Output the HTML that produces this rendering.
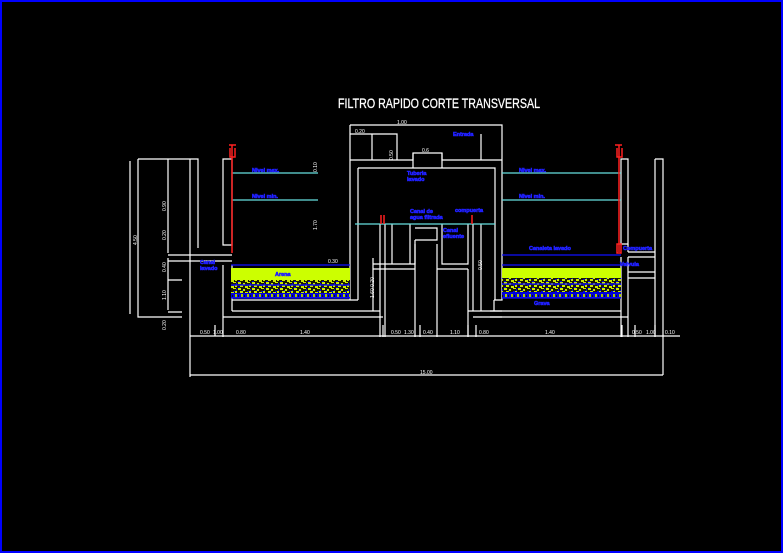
<!DOCTYPE html>
<html><head><meta charset="utf-8"><style>
html,body{margin:0;padding:0;background:#000;}
svg{display:block;}
text{font-family:"Liberation Sans",sans-serif;}
</style></head><body>
<svg width="783" height="553" viewBox="0 0 783 553" xmlns="http://www.w3.org/2000/svg">
<defs>
<pattern id="sp" width="14" height="6" patternUnits="userSpaceOnUse">
<rect width="14" height="6" fill="#1a1a00"/>
<rect x="0" y="0" width="3" height="2" fill="#ccee00"/><rect x="5" y="1" width="2" height="2" fill="#ccee00"/>
<rect x="9" y="0" width="3" height="1" fill="#ccee00"/><rect x="2" y="3" width="3" height="2" fill="#ccee00"/>
<rect x="7" y="4" width="3" height="2" fill="#ccee00"/><rect x="11" y="3" width="2" height="2" fill="#ccee00"/>
<rect x="4" y="2" width="1" height="1" fill="#0000ee"/><rect x="12" y="1" width="1" height="2" fill="#0000ee"/>
<rect x="0" y="5" width="2" height="1" fill="#0000ee"/><rect x="9" y="3" width="2" height="1" fill="#0000ee"/>
</pattern>
<pattern id="bl" width="6" height="6" patternUnits="userSpaceOnUse">
<rect width="6" height="6" fill="#0000dd"/><rect x="1" y="0" width="2" height="3" fill="#aacc00"/><rect x="4" y="1" width="1" height="2" fill="#112200"/>
</pattern>
</defs>
<rect x="0" y="0" width="783" height="553" fill="#000"/>
<rect x="1" y="1" width="781" height="551" fill="none" stroke="#0000ff" stroke-width="2"/>

<text x="338" y="108" fill="#fff" stroke="#fff" stroke-width="0.3" font-size="14" textLength="202" lengthAdjust="spacingAndGlyphs">FILTRO RAPIDO CORTE TRANSVERSAL</text>

<g stroke="#fff" stroke-width="1.2" fill="none">
<path d="M138 159H198V248"/>
<path d="M138 159V317H182"/>
<path d="M168 159V253M168 258V310"/>
<path d="M190 159V377"/>
<path d="M168 255H232M168 261H232"/>
<path d="M168 280H182M168 312H182"/>
<path d="M223 159H232V245H223Z"/>
<path d="M223 265V337M232 265V311"/>
<path d="M232 311H380M223 317H383"/>
<path d="M350 160V300H358M350 300H232"/>
<path d="M350 125H502V160M350 125V160"/>
<path d="M350 134H397V160M372 134V160M481 134V160"/>
<path d="M350 160H413V153H442V160H502"/>
<path d="M413 168V153M442 168V153"/>
<path d="M358 168H495V300M358 168V300"/>
<path d="M502 160V300H494"/>
<path d="M380 224V337M385 224V337M392 224V264M410 224V264"/>
<path d="M373 258V311M373 264H415V240"/>
<path d="M373 269H415M437 269H468"/>
<path d="M415 244V337M437 244V337M415 228H437V240H415"/>
<path d="M442 224V264H468V224"/>
<path d="M468 269V337M473 224V311M481 224V311"/>
<path d="M468 311H502M473 317H502"/>
<path d="M490 311H621M490 317H628"/>
<path d="M621 159H628V244H621Z"/>
<path d="M628 252H655M628 257H655M628 244V252"/>
<path d="M621 257V337M628 257V337"/>
<path d="M655 159H663V375M655 159V335"/>
<path d="M628 272H655M628 278H655"/>
<path d="M494 300V311"/>
<path d="M190 336H680"/>
<path d="M190 375H663"/>
<path d="M215 325V336M383 325V337M420 325V337M468 325V337M476 325V337M622 325V337M635 325V337M655 325V337"/>
<path d="M130 161V314"/>
</g>

<g stroke="#66e0e0" stroke-width="1.2">
<path d="M232 173H318M232 200H318M502 173H621M502 200H621M355 224H495"/>
</g>
<g stroke="#ff2020" stroke-width="1.5" fill="none">
<path d="M232 145V253M229 145H236M230 148V157H235V148"/>
<path d="M619 145V252M615 145H622M617 148V157H622V148M617 244H621V253H617Z"/>
<path d="M384 215V224M472 215V224M381 215V224"/>
</g>

<g>
<rect x="231" y="268" width="119" height="12" fill="#ccff00"/>
<rect x="231" y="280" width="119" height="13" fill="url(#sp)"/>
<rect x="231" y="293" width="119" height="5" fill="url(#bl)"/>
<rect x="502" y="268" width="119" height="10" fill="#ccff00"/>
<rect x="502" y="278" width="119" height="14" fill="url(#sp)"/>
<rect x="502" y="292" width="119" height="6" fill="url(#bl)"/>
</g>
<g stroke="#1010ff" stroke-width="1.2">
<path d="M231 265H350M231 285H350M502 255H621M502 265H621M502 284H621M231 298H350M502 298H621"/>
</g>

<g fill="#2020ff" stroke="#2020ff" stroke-width="0.6" font-size="5.5" font-weight="bold">
<text x="252" y="172">Nivel max.</text>
<text x="252" y="198">Nivel min.</text>
<text x="519" y="172">Nivel max.</text>
<text x="519" y="198">Nivel min.</text>
<text x="200" y="264">Canal</text><text x="200" y="270">lavado</text>
<text x="407" y="175">Tuberia</text><text x="407" y="181">lavado</text>
<text x="410" y="213">Canal de</text><text x="410" y="219">agua filtrada</text>
<text x="455" y="212">compuerta</text>
<text x="443" y="232">Canal</text><text x="443" y="238">efluente</text>
<text x="453" y="136">Entrada</text>
<text x="529" y="250">Canaleta lavado</text>
<text x="623" y="250">Compuerta</text>
<text x="620" y="266">Valvula</text>
<text x="534" y="305">Grava</text>
<text x="275" y="276">Arena</text>
</g>

<g fill="#fff" font-size="5">
<text x="200" y="334">0.50</text><text x="213" y="334">1.00</text><text x="236" y="334">0.80</text><text x="300" y="334">1.40</text>
<text x="391" y="334">0.50</text><text x="404" y="334">1.30</text><text x="423" y="334">0.40</text><text x="450" y="334">1.10</text>
<text x="479" y="334">0.80</text><text x="545" y="334">1.40</text><text x="632" y="334">0.50</text><text x="646" y="334">1.00</text><text x="665" y="334">0.10</text>
<text x="420" y="374">15.00</text>
<text x="397" y="124">1.00</text><text x="355" y="133">0.20</text><text x="422" y="152">0.6</text>
<text x="328" y="263">0.30</text>
</g>
<g fill="#fff" font-size="5">
<text transform="translate(137,245) rotate(-90)">4.50</text>
<text transform="translate(166,211) rotate(-90)">0.90</text>
<text transform="translate(166,240) rotate(-90)">0.20</text>
<text transform="translate(166,272) rotate(-90)">0.40</text>
<text transform="translate(166,300) rotate(-90)">1.10</text>
<text transform="translate(166,330) rotate(-90)">0.20</text>
<text transform="translate(317,172) rotate(-90)">0.10</text>
<text transform="translate(317,230) rotate(-90)">1.70</text>
<text transform="translate(393,160) rotate(-90)">0.50</text>
<text transform="translate(374,298) rotate(-90)">1.60 0.20</text>
<text transform="translate(482,270) rotate(-90)">0.50</text>
</g>
</svg>
</body></html>
